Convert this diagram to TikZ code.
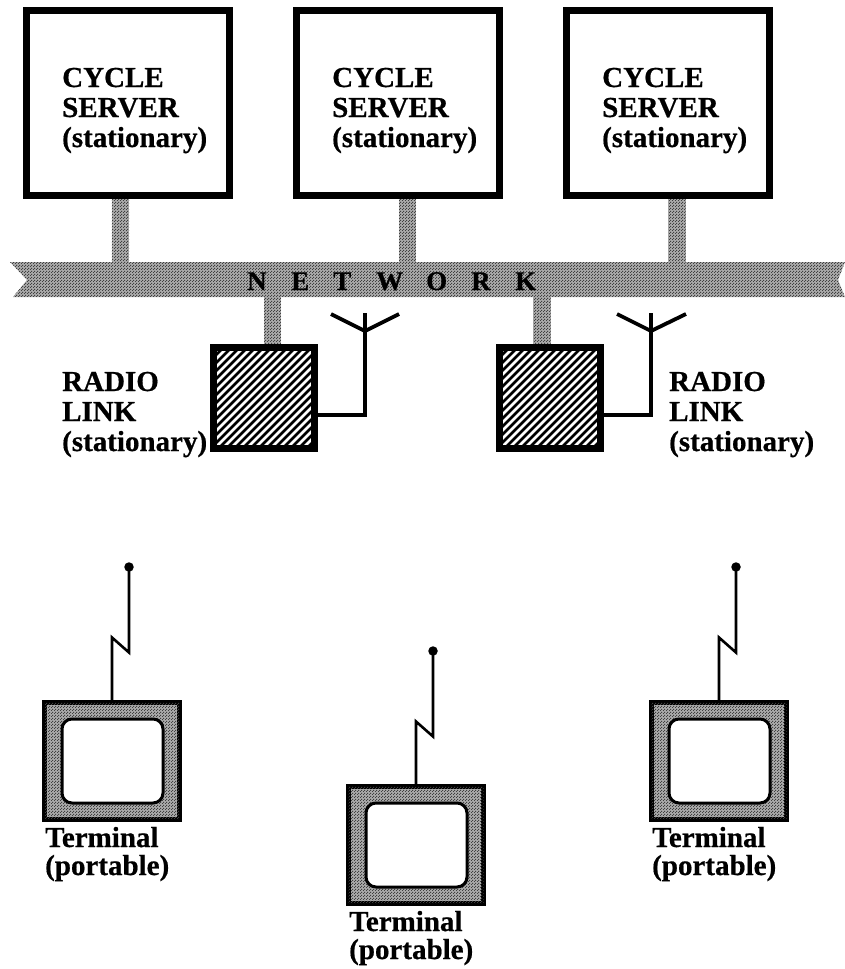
\documentclass[tikz,border=0pt]{standalone}
\usepackage{fontspec}
\setmainfont[BoldFeatures={FakeBold=0.6}]{Liberation Serif}
\usetikzlibrary{patterns}
\pgfdeclarepatternformonly{dither}{\pgfqpoint{0pt}{0pt}}{\pgfqpoint{3pt}{3pt}}{\pgfqpoint{3pt}{3pt}}{
  \pgfpathrectangle{\pgfqpoint{0pt}{0pt}}{\pgfqpoint{1.2pt}{1.2pt}}
  \pgfpathrectangle{\pgfqpoint{1.5pt}{1.5pt}}{\pgfqpoint{1.2pt}{1.2pt}}
  \pgfusepath{fill}}
\tikzset{
  x=1pt,y=-1pt,
  lbl/.style={anchor=base west,inner sep=0pt,align=left,font=\fontsize{29}{30}\selectfont\bfseries},
  letter/.style={anchor=base west,inner sep=0pt,font=\fontsize{27}{30}\selectfont\bfseries},
  server/.style={draw=black,line width=7pt,fill=white,minimum width=203pt,minimum height=185pt,inner sep=0pt,outer sep=0pt},
  radio/.style={draw=black,line width=7pt,minimum width=101pt,minimum height=101pt,inner sep=0pt,outer sep=0pt},
  termbox/.style={draw=black,line width=5pt,fill=htone,minimum width=135pt,minimum height=117pt,inner sep=0pt,outer sep=0pt,postaction={pattern=dither,pattern color=black!75}},
  screen/.style={draw=black,line width=3pt,fill=white,rounded corners=10pt,minimum width=101pt,minimum height=84pt,inner sep=0pt,outer sep=0pt},
  antenna/.style={draw=black,line width=3.8pt,line join=miter},
  whip/.style={draw=black,line width=2.6pt,line join=miter},
  tip/.style={circle,fill=black,minimum size=9.5pt,inner sep=0pt,outer sep=0pt},
}
\definecolor{htone}{gray}{0.66}
\begin{document}
\begin{tikzpicture}
\useasboundingbox (0,0) rectangle (845,969);
% network band
\coordinate (bandL) at (27,280);
\coordinate (bandR) at (838,280);
\path[fill=htone,postaction={pattern=dither,pattern color=black!75}]
  (10,262) -- (bandL) -- (13,297) -- (845,297) -- (bandR) -- (845,262) -- cycle;
% stubs
\foreach \x/\ya/\yb in {120.5/197/263,407.5/197/263,677/197/263,272.5/296/346,542/296/346}{
  \path[fill=htone,postaction={pattern=dither,pattern color=black!75}]
    (\x-8.7,\ya) rectangle (\x+8.7,\yb);
}
% servers
\node[server] (s1) at (128,103) {};
\node[server] (s2) at (398,103) {};
\node[server] (s3) at (668,103) {};
\node[lbl] (ls1) at (62,147) {CYCLE\\SERVER\\(stationary)};
\node[lbl] (ls2) at (332,147) {CYCLE\\SERVER\\(stationary)};
\node[lbl] (ls3) at (602,147) {CYCLE\\SERVER\\(stationary)};
% network letters
\foreach \l/\x in {N/247,E/291,T/333,W/376,O/426,R/471,K/515}{
  \node[letter] (n\l) at (\x,290) {\l};
}
% radio links
\begin{scope}
  \clip (213,347) rectangle (315,449);
  \foreach \k in {0,...,28}{
    \draw[black,line width=2.7pt] (95+8*\k,460) -- (95+8*\k+130,330);
  }
\end{scope}
\begin{scope}
  \clip (499,347) rectangle (601,449);
  \foreach \k in {0,...,28}{
    \draw[black,line width=2.7pt] (381+8*\k,460) -- (381+8*\k+130,330);
  }
\end{scope}
\node[radio] (r1) at (264,398) {};
\node[radio] (r2) at (550,398) {};
\coordinate (a1) at (365,331);
\coordinate (a2) at (651,331);
\coordinate (a1l) at (331,314);
\coordinate (a1r) at (399,314);
\coordinate (a2l) at (617,314);
\coordinate (a2r) at (686,314);
\coordinate (a1t) at (365,313);
\coordinate (a2t) at (651,313);
\coordinate (k1) at (365,415);
\coordinate (k2) at (651,415);
\draw[antenna] (k1 -| r1.east) -- (k1) -- (a1t);
\draw[antenna] (k2 -| r2.east) -- (k2) -- (a2t);
\draw[antenna] (a1l) -- (a1) -- (a1r);
\draw[antenna] (a2l) -- (a2) -- (a2r);
\node[lbl] (lr1) at (62,451) {RADIO\\LINK\\(stationary)};
\node[lbl] (lr2) at (669,451) {RADIO\\LINK\\(stationary)};
% terminals
\foreach \i/\cx/\cy/\sx/\sy in {1/112/761/112.5/761,2/416/845/416.5/845,3/719/761/719.5/761}{
  \node[termbox] (t\i) at (\cx,\cy) {};
  \node[screen] (sc\i) at (\sx,\sy) {};
  \node[tip] (d\i) at (\cx+17,\cy-194) {};
  \draw[whip] (t\i.north) -- ++(0,-65) -- ++(17,15) -- (d\i.center);
  \node[lbl] (lt\i) at (\cx-67,\cy+114) {Terminal\\[-2pt](portable)};
}
\end{tikzpicture}
\end{document}
